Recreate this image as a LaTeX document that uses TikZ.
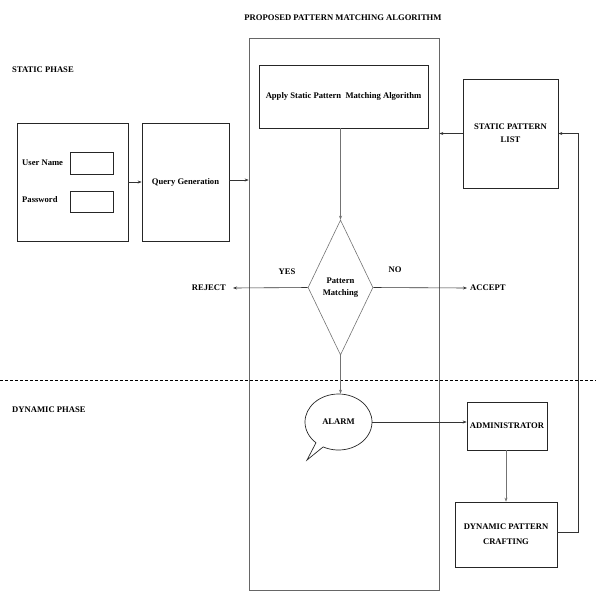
\documentclass[tikz,border=0pt]{standalone}
\usepackage{fontspec}
\setmainfont{Liberation Serif}
\usetikzlibrary{shapes.geometric,shapes.callouts,arrows.meta}
\begin{document}
\begin{tikzpicture}[x=1pt,y=-1pt,
  every node/.style={font=\fontsize{8.6}{10}\selectfont\bfseries},
  lbl/.style={inner sep=0pt},
  boxr/.style={draw=black!85,line width=0.7pt,inner sep=0pt,align=center},
  conn/.style={draw=black!80,line width=0.6pt,-{Stealth[length=4pt,width=3pt]}},
  gconn/.style={draw=black!55,line width=0.6pt,-{Stealth[length=4pt,width=3pt]}}
]
\useasboundingbox (0,0) rectangle (596,592);
% titles
\node[lbl] (title) at (343,18) {PROPOSED PATTERN MATCHING ALGORITHM};
\node[lbl,anchor=west] (static) at (12,70) {STATIC PHASE};
\node[lbl,anchor=west] (dynamic) at (12,410) {DYNAMIC PHASE};
% big algorithm box
\node[boxr,draw=black!60,minimum width=190pt,minimum height=552pt] (big) at (344,314) {};
% apply box
\node[boxr,minimum width=169pt,minimum height=63pt] (apply) at (343.5,96.5) {Apply Static Pattern\ \ Matching Algorithm};
% static pattern list
\node[boxr,minimum width=95pt,minimum height=109pt] (spl) at (510.5,133.5) {STATIC PATTERN\\[3pt]LIST};
% user box
\node[boxr,minimum width=111pt,minimum height=118pt] (user) at (72.5,182) {};
\node[lbl,anchor=west] (uname) at (22,163) {User Name};
\node[lbl,anchor=west] (pwd) at (22,200) {Password};
\node[boxr,minimum width=43pt,minimum height=22pt] (ubox) at (91.5,163) {};
\node[boxr,minimum width=43pt,minimum height=21pt] (pbox) at (91.5,201.5) {};
% query generation
\node[boxr,minimum width=87pt,minimum height=118pt] (query) at (185.5,182) {Query Generation};
% diamond
\node[diamond,draw=black!55,line width=0.6pt,minimum width=65pt,minimum height=135pt,inner sep=0pt,align=center,aspect=0.48] (dia) at (340.5,287.5) {Pattern\\[2pt]Matching};
% reject / accept
\node[lbl,anchor=east] (reject) at (226,288) {REJECT};
\node[lbl,anchor=west] (accept) at (470,288) {ACCEPT};
\coordinate (rj) at (233,288);
\coordinate (ac) at (467,288);
\node[lbl] (yes) at (287,272) {YES};
\node[lbl] (no) at (395,270) {NO};
% dashed separator
\coordinate (dl) at (0,380);
\coordinate (dr) at (596,380);
\draw[dashed,line width=0.7pt,dash pattern=on 3pt off 2pt] (dl) -- (dr);
% alarm callout
\node[ellipse callout,draw=black!85,line width=0.7pt,minimum width=67pt,minimum height=56pt,inner sep=0pt,callout absolute pointer={(307,460)}] (alarm) at (338.5,422) {ALARM};
% administrator
\node[boxr,minimum width=80pt,minimum height=48pt] (admin) at (507,426) {ADMINISTRATOR};
% dynamic crafting
\node[boxr,minimum width=102pt,minimum height=65pt] (dpc) at (506,534.5) {DYNAMIC PATTERN\\[5pt]CRAFTING};
% connectors
\draw[conn] (user.east |- 0,182) -- (query.west |- 0,182);
\draw[conn] (query.east |- 0,180) -- (big.west |- 0,180);
\draw[gconn] (apply.south -| dia.north) -- (dia.north);
\draw[conn] (dia.west) -- (rj);
\draw[conn] (dia.east) -- (ac);
\draw[gconn] (dia.south) -- (alarm.north -| dia.south);
\draw[conn] (alarm.east) -- (admin.west |- alarm.east);
\draw[gconn] (admin.south -| dpc.north) -- (dpc.north);
\draw[conn] (spl.west) -- (big.east |- spl.west);
\coordinate (rc) at (578,532);
\draw[conn] (dpc.east |- rc) -- (rc) |- (spl.east);
\end{tikzpicture}
\end{document}
